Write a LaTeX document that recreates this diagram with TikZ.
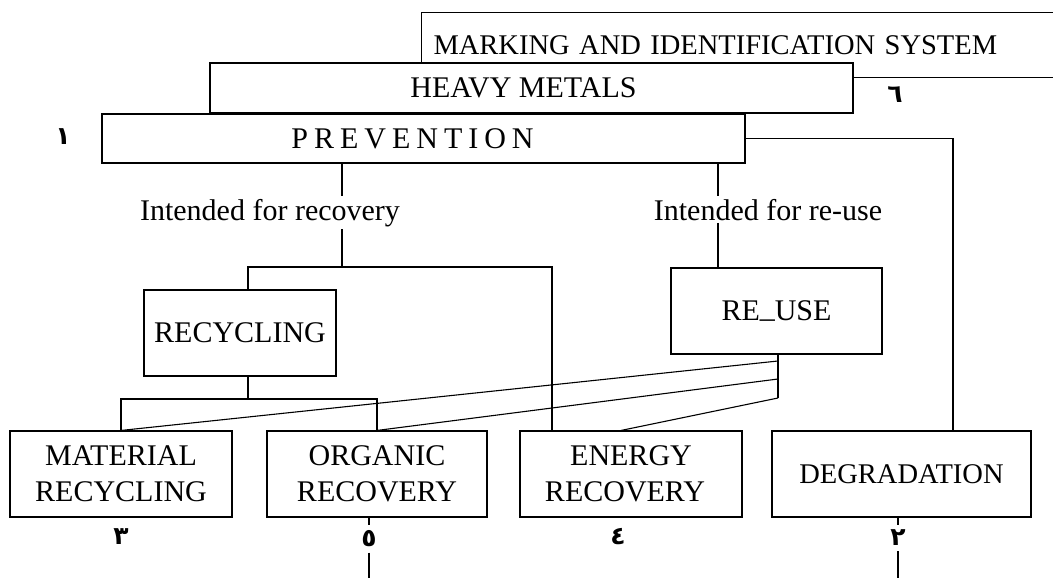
\documentclass[tikz,border=0pt]{standalone}
\usepackage{fontspec}
\setmainfont{Liberation Serif}
\newfontfamily\arabicfont[Script=Arabic]{DejaVu Sans}
\TeXXeTstate=1
\begin{document}
\begin{tikzpicture}[x=1pt,y=-1pt,line width=1.1pt,
  box/.style={draw,fill=white,inner sep=0pt,align=center,font=\fontsize{30}{36}\selectfont},
  lbl/.style={inner sep=2pt,font=\fontsize{30}{36}\selectfont},
  num/.style={inner sep=5pt,font=\arabicfont\bfseries\fontsize{25}{30}\selectfont}]
\clip (0,0) rectangle (1053,578);
% top boxes
\node[box,anchor=north west,text width=636pt,inner xsep=12pt,align=left,minimum height=65pt,font=\fontsize{28.5}{34}\selectfont] (mark) at (421,12) {MARKING AND IDENTIFICATION SYSTEM};
\node[box,minimum width=643pt,minimum height=50pt] (metals) at (531.5,88) {HEAVY METALS\kern16pt};
\node[box,minimum width=643pt,minimum height=49pt,font=\fontsize{30}{36}\selectfont\addfontfeature{LetterSpace=20}] (prev) at (423.5,138.5) {PREVENTION\kern22pt};
\node[num] (n1) at (63,137) {\beginR ١\endR};
\node[num] (n6) at (895,95) {\beginR ٦\endR};

\node[lbl,anchor=base] (recov) at (270,220) {Intended for recovery};
\node[lbl,anchor=base] (reuse) at (768,220) {Intended for re-use};

\node[box,minimum width=192pt,minimum height=86pt] (recyc) at (240,333) {RECYCLING};
\node[box,minimum width=211pt,minimum height=86pt] (reusebox) at (776.5,311) {RE\raisebox{0.12em}{\_}USE};

% bottom boxes
\node[box,minimum width=222pt,minimum height=86pt] (mat) at (121,474) {MATERIAL\\RECYCLING};
\node[box,minimum width=220pt,minimum height=86pt] (org) at (377,474) {ORGANIC\\RECOVERY};
\node[box,minimum width=222pt,minimum height=86pt] (ene) at (631,474) {ENERGY\\RECOVERY\kern12pt};
\node[box,minimum width=259pt,minimum height=86pt,font=\fontsize{28.5}{34}\selectfont] (deg) at (901.5,474) {DEGRADATION};

\node[num] (n3) at (121,537) {\beginR ٣\endR};
\node[num] (n5) at (369,539) {\beginR ٥\endR};
\node[num] (n4) at (618,537) {\beginR ٤\endR};
\node[num] (n2) at (898,538) {\beginR ٢\endR};

\coordinate (splitL) at (342,267);
\coordinate (dropR) at (718,268);
\coordinate (dropE) at (552,267);
\coordinate (joinM) at (248,399);
\coordinate (fanA) at (778,361);
\coordinate (fanB) at (778,379);
\coordinate (fanC) at (778,398);
\coordinate (turnR) at (953,139);
\coordinate (endO) at (369,578);
\coordinate (endD) at (898,578);

% prevention down to the labels
\draw (prev.south -| splitL) -- (recov.north -| splitL);
\draw (recov.south -| splitL) -- (splitL);
\draw (prev.south -| dropR) -- (reuse.north -| dropR);
\draw (reuse.south -| dropR) -- (dropR |- reusebox.north);
\draw (recyc.north -| joinM) |- (dropE) -- (dropE |- ene.north);
\draw (prev.east) -| (turnR |- deg.north);

% recycling and re-use down to the bottom row
\draw (recyc.south -| joinM) -- (joinM);
\draw (mat.north) |- (joinM) -| (org.north);
\draw (reusebox.south -| fanC) -- (fanC);
\draw (fanA) -- (mat.north);
\draw (fanB) -- (org.north);
\draw (fanC) -- ([xshift=-10pt]ene.north);

\draw (n5.north |- org.south) -- (n5.north);
\draw (n5.south) -- (endO);
\draw (n2.north |- deg.south) -- (n2.north);
\draw (n2.south) -- (endD);
\end{tikzpicture}
\end{document}
